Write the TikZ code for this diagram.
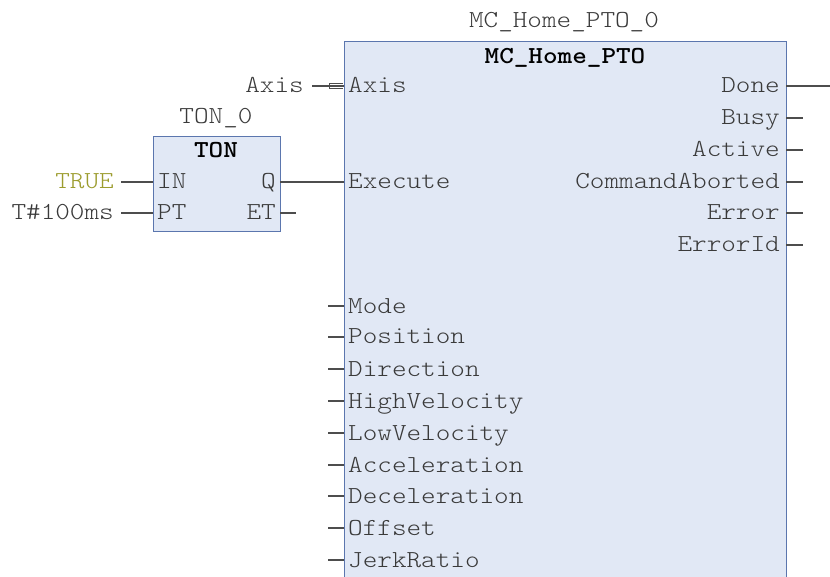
\documentclass[tikz,border=0pt]{standalone}
\usepackage{fontspec}
\newfontfamily\cour[FakeStretch=1.14, BoldFont=lmmonolt10-bold.otf]{lmmonolt10-regular.otf}
\definecolor{blockfill}{HTML}{E1E8F5}
\definecolor{blockedge}{HTML}{5B76AE}
\definecolor{txt}{HTML}{3A3A3A}
\definecolor{wirec}{HTML}{4D4D4D}
\definecolor{olive}{HTML}{9C9C2E}
\tikzset{
  fbox/.style={draw=blockedge, fill=blockfill, line width=1.1pt, inner sep=0pt, anchor=north west},
  lbl/.style={inner sep=0pt, text=txt, font=\cour\fontsize{24.4}{28}\selectfont},
  ttl/.style={lbl, font=\cour\fontsize{24.4}{28}\selectfont\bfseries, text=black},
  wire/.style={draw=wirec, line width=1.1pt},
}
\begin{document}
\begin{tikzpicture}[x=1pt,y=-1pt]
\useasboundingbox (0,0) rectangle (830,577);
\fill[white] (0,0) rectangle (830,577);
\clip (0,0) rectangle (830,577);

% main function block
\node[fbox, minimum width=442pt, minimum height=580pt] (main) at (344,41) {};
\node[lbl, anchor=base] (mainname) at (564,28) {MC\_Home\_PTO\_0};
\node[ttl, anchor=base] (maintitle) at (565,64) {MC\_Home\_PTO};

% TON block
\node[fbox, minimum width=127pt, minimum height=95pt] (ton) at (153,136) {};
\node[lbl, anchor=base] (tonname) at (216,124) {TON\_0};
\node[ttl, anchor=base] (tontitle) at (216,158) {TON};
\node[lbl, anchor=base west] (tonIN) at (157,189) {IN};
\node[lbl, anchor=base west] (tonPT) at (157,220) {PT};
\node[lbl, anchor=base east] (tonQ) at (276,189) {Q};
\node[lbl, anchor=base east] (tonET) at (276,220) {ET};

% inputs of TON
\node[lbl, anchor=base east, text=olive] (true) at (114,189) {TRUE};
\node[lbl, anchor=base east] (tval) at (114,220) {T\#100ms};
\coordinate (inIN) at (153,182);
\coordinate (inPT) at (153,213);
\coordinate (inINs) at (121,182);
\coordinate (inPTs) at (121,213);
\draw[wire] (inINs) -- (inIN);
\draw[wire] (inPTs) -- (inPT);
\coordinate (outQ) at (280,182);
\coordinate (outET) at (280,213);
\coordinate (outETs) at (296,213);
\draw[wire] (outET) -- (outETs);

% main inputs
\node[lbl, anchor=base west] (mAxis) at (348,93) {Axis};
\node[lbl, anchor=base east] (axisvar) at (304,93) {Axis};
\coordinate (pAxis) at (344,86);
\coordinate (pAxisS) at (312,86);
\draw[wire] (pAxisS) -- (pAxis);
\draw[draw=wirec, line width=0.8pt] (343,83.5) -- (329,83.5) -- (329,88) -- (343,88);

\node[lbl, anchor=base west] (mExecute) at (348,189) {Execute};
\coordinate (pExecute) at (344,182);
\draw[wire] (outQ) -- (pExecute);

\foreach \nm/\yy in {Mode/306, Position/337, Direction/369, HighVelocity/401, LowVelocity/433, Acceleration/465, Deceleration/496, Offset/528, JerkRatio/560}{
  \node[lbl, anchor=base west] (m\nm) at (348,\yy+7) {\nm};
  \coordinate (p\nm) at (344,\yy);
  \coordinate (s\nm) at (328,\yy);
  \draw[wire] (s\nm) -- (p\nm);
}

% main outputs
\node[lbl, anchor=base east] (mDone) at (780,93) {Done};
\coordinate (oDone) at (786,86);
\coordinate (sDone) at (830,86);
\draw[wire] (oDone) -- (sDone);
\foreach \nm/\yy in {Busy/118, Active/150, CommandAborted/182, Error/213, ErrorId/245}{
  \node[lbl, anchor=base east] (m\nm) at (780,\yy+7) {\nm};
  \coordinate (o\nm) at (786,\yy);
  \coordinate (s\nm) at (803,\yy);
  \draw[wire] (o\nm) -- (s\nm);
}
\end{tikzpicture}
\end{document}
